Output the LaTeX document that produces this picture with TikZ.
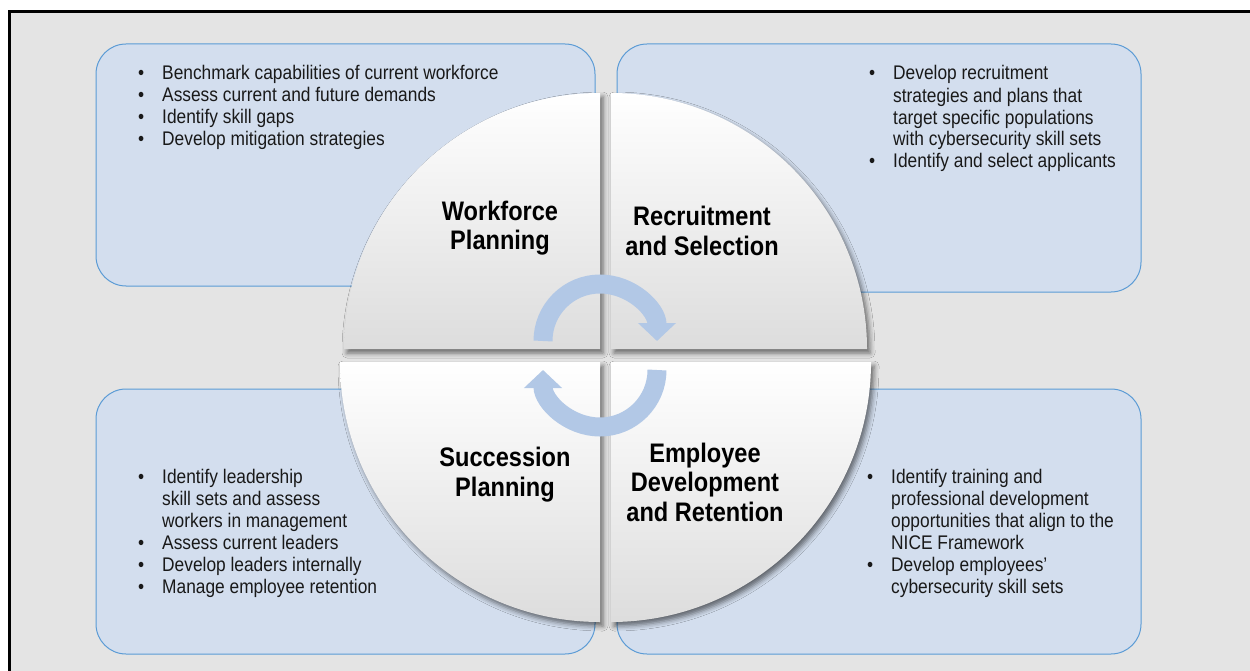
\documentclass[tikz,border=0pt]{standalone}
\usepackage{fontspec}
\setmainfont{Liberation Sans}[FakeStretch=0.88]
\usetikzlibrary{arrows.meta,shadows.blur}
\definecolor{panelfill}{RGB}{211,222,238}
\definecolor{paneledge}{RGB}{91,155,213}
\definecolor{backfill}{RGB}{228,228,228}
\definecolor{turnfill}{RGB}{178,200,230}
\newcommand{\itm}{\makebox[24pt][l]{\textbullet}}
\newcommand{\cnt}{\hspace*{24pt}}

\begin{document}
\begin{tikzpicture}[x=1pt, y=-1pt]
        %style
        \tikzset{panel/.style = {shape=rectangle, draw=paneledge, fill=panelfill, line width=1pt, rounded corners=30pt}}
        \tikzset{quadrant/.style = {shading=axis, top color=white, bottom color=gray!27, blur shadow={shadow xshift=3pt, shadow yshift=-4pt, shadow blur radius=5pt, shadow opacity=55}}}
        \tikzset{heading/.style = {align=center, inner sep=0pt, anchor=base, font=\bfseries\fontsize{26.8}{29.5}\selectfont}}
        \tikzset{bullets/.style = {align=left, inner sep=0pt, anchor=base west, text=black!90, font=\fontsize{19.7}{22}\selectfont}}
        \tikzset{turnarrow/.style = {draw=turnfill, line width=19pt, -{Triangle[width=37pt, length=18pt]}}}
        \useasboundingbox (0,0) rectangle (1250,671);
        \fill[backfill] (9.5,11.5) rectangle (1250,671);
        \draw[line width=3pt] (9.5,671) -- (9.5,11.5) -- (1250,11.5);
        % panels
        \node[panel, minimum width=499pt, minimum height=242pt] (wfpanel) at (345.5,165) {};
        \node[panel, minimum width=524pt, minimum height=248pt] (rspanel) at (879,168) {};
        \node[panel, minimum width=499pt, minimum height=265pt] (sppanel) at (345.5,521.5) {};
        \node[panel, minimum width=524pt, minimum height=265pt] (edpanel) at (879,521.5) {};
        % quadrants
        \path[quadrant] (600,349) -- (344,349) arc (180:270:256) -- cycle;
        \path[quadrant] (611,349) -- (611,93) arc (270:360:256) -- cycle;
        \path[quadrant] (600,362) -- (600,622) arc (90:180:260) -- cycle;
        \path[quadrant] (611,362) -- (871,362) arc (0:90:260) -- cycle;
        % arrows
        \coordinate (turnA) at (543,341);
        \coordinate (turnB) at (657,370);
        \draw[turnarrow] (turnA) arc (180:360:57);
        \draw[turnarrow] (turnB) arc (0:180:57);
        % headings (base = last line)
        \node[heading] (wf) at (500,250) {Workforce\\Planning};
        \node[heading] (rs) at (702,255) {Recruitment\\and Selection};
        \node[heading] (sp) at (505,496) {Succession\\Planning};
        \node[heading] (ed) at (705,521) {Employee\\Development\\and Retention};
        % lists (base = last line)
        \node[bullets] (wflist) at (138,146) {\itm Benchmark capabilities of current workforce\\ \itm Assess current and future demands\\ \itm Identify skill gaps\\ \itm Develop mitigation strategies};
        \node[bullets] (rslist) at (869,168) {\itm Develop recruitment\\ \cnt strategies and plans that\\ \cnt target specific populations\\ \cnt with cybersecurity skill sets\\ \itm Identify and select applicants};
        \node[bullets] (splist) at (138,593) {\itm Identify leadership\\ \cnt skill sets and assess\\ \cnt workers in management\\ \itm Assess current leaders\\ \itm Develop leaders internally\\ \itm Manage employee retention};
        \node[bullets] (edlist) at (867,593) {\itm Identify training and\\ \cnt professional development\\ \cnt opportunities that align to the\\ \cnt NICE Framework\\ \itm Develop employees'\\ \cnt cybersecurity skill sets};
\end{tikzpicture}
\end{document}
